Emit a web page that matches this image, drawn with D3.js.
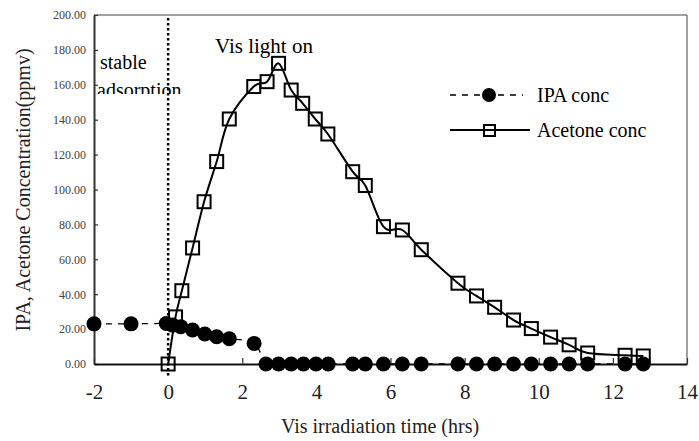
<!DOCTYPE html>
<html>
<head>
<meta charset="utf-8">
<script src="https://cdn.jsdelivr.net/npm/d3@7"></script>
<style>
  body { margin: 0; background: #fff; }
  svg { display: block; }
  svg text { font-family: "Liberation Serif", "DejaVu Serif", serif; }
</style>
</head>
<body>
<script>
// acetone concentration (ppmv) vs time (hrs)
const acetoneTime = [0, 0.2, 0.37, 0.66, 0.97, 1.31, 1.65, 2.31, 2.67, 2.98, 3.32, 3.63, 3.97, 4.31,
  4.98, 5.32, 5.81, 6.32, 6.83, 7.82, 8.32, 8.81, 9.32, 9.8, 10.32, 10.82, 11.32, 12.33, 12.82];
const acetoneConc = [0, 27, 42, 66.5, 93, 116, 140.4, 159, 161.8, 172.3, 157, 149.4, 140.4, 131.8,
  110.2, 102.3, 78.7, 76.8, 65.5, 46.3, 39, 32.5, 25.2, 20.3, 15.4, 11, 6.3, 5, 4.6];

// IPA concentration (ppmv) vs time (hrs)
const ipaTime = [-2, -1, -0.05, 0.12, 0.34, 0.66, 0.99, 1.31, 1.65, 2.32, 2.64, 2.98, 3.32, 3.65, 3.99,
  4.32, 4.98, 5.32, 5.81, 6.32, 6.83, 7.82, 8.32, 8.81, 9.32, 9.8, 10.32, 10.82, 11.32, 12.33, 12.82];
const ipaConc = [23, 23, 23.2, 22.3, 21.4, 19.5, 17.2, 15.6, 14.5, 11.8, 0, 0, 0, 0, 0,
  0, 0, 0, 0, 0, 0, 0, 0, 0, 0, 0, 0, 0, 0, 0, 0];

const xTicks = [-2, 0, 2, 4, 6, 8, 10, 12, 14];
const yTicks = [0, 20, 40, 60, 80, 100, 120, 140, 160, 180, 200];

const W = 699, H = 441;
const margin = { top: 15, right: 12, bottom: 77, left: 94 };

const x = d3.scaleLinear().domain([-2, 14]).range([margin.left, W - margin.right]);
const y = d3.scaleLinear().domain([0, 200]).range([H - margin.bottom, margin.top]);

const svg = d3.select('body').append('svg')
  .attr('width', W)
  .attr('height', H);

// frame: top and right in gray
svg.append('line')
  .attr('x1', x(-2)).attr('x2', x(14))
  .attr('y1', y(200)).attr('y2', y(200))
  .attr('stroke', '#808080').attr('stroke-width', 1.5);
svg.append('line')
  .attr('x1', x(14)).attr('x2', x(14))
  .attr('y1', y(200)).attr('y2', y(0))
  .attr('stroke', '#808080').attr('stroke-width', 1.5);

// y axis
const yAxis = svg.append('g')
  .attr('transform', `translate(${x(-2)},0)`)
  .call(d3.axisLeft(y).tickValues(yTicks).tickFormat(d3.format('.2f')).tickSizeInner(-4).tickSizeOuter(0).tickPadding(8));
yAxis.select('.domain').attr('stroke', '#333').attr('stroke-width', 2);
yAxis.selectAll('.tick line').attr('stroke', '#333').attr('stroke-width', 1.2);
yAxis.selectAll('.tick text')
  .style('font-family', '"Liberation Serif", serif')
  .style('font-size', '12px')
  .attr('fill', '#444');

// x axis
const xAxis = svg.append('g')
  .attr('transform', `translate(0,${y(0)})`)
  .call(d3.axisBottom(x).tickValues(xTicks).tickFormat(d => String(d)).tickSizeInner(-6).tickSizeOuter(0).tickPadding(20));
xAxis.select('.domain').attr('stroke', '#111').attr('stroke-width', 2);
xAxis.selectAll('.tick line').attr('stroke', '#333').attr('stroke-width', 1.2);
xAxis.selectAll('.tick text')
  .style('font-family', '"Liberation Serif", serif')
  .style('font-size', '21px')
  .attr('fill', '#222');

// axis titles
svg.append('text')
  .attr('x', 380).attr('y', 433)
  .attr('text-anchor', 'middle')
  .attr('font-size', 20)
  .attr('fill', '#222')
  .text('Vis irradiation time (hrs)');
svg.append('text')
  .attr('transform', `translate(30,190) rotate(-90)`)
  .attr('text-anchor', 'middle')
  .attr('font-size', 20)
  .attr('fill', '#222')
  .text('IPA, Acetone Concentration(ppmv)');

// vertical dotted line at light on
svg.append('line')
  .attr('x1', x(0)).attr('x2', x(0))
  .attr('y1', 18).attr('y2', 376)
  .attr('stroke', '#000').attr('stroke-width', 2.5)
  .attr('stroke-dasharray', '2.5,2.5');

// annotations
svg.append('text')
  .attr('x', 100).attr('y', 69)
  .attr('font-size', 20)
  .text('stable');
svg.append('clipPath').attr('id', 'clipAds')
  .append('rect').attr('x', 90).attr('y', 72).attr('width', 120).attr('height', 22);
svg.append('text')
  .attr('x', 97).attr('y', 97)
  .attr('font-size', 20)
  .attr('clip-path', 'url(#clipAds)')
  .text('adsorption');
svg.append('text')
  .attr('x', 215).attr('y', 53)
  .attr('font-size', 21)
  .text('Vis light on');

// acetone line + squares
const acetone = acetoneTime.map((t, i) => ({ t, v: acetoneConc[i] }));
const ipa = ipaTime.map((t, i) => ({ t, v: ipaConc[i] }));

const line = d3.line()
  .x(d => x(d.t))
  .y(d => y(d.v))
  .curve(d3.curveCatmullRom.alpha(0));

svg.append('path')
  .datum(acetone)
  .attr('d', line)
  .attr('fill', 'none')
  .attr('stroke', '#000')
  .attr('stroke-width', 2);

const sq = 13;
svg.selectAll('.sq')
  .data(acetone)
  .enter().append('rect')
  .attr('class', 'sq')
  .attr('x', d => x(d.t) - sq / 2)
  .attr('y', d => y(d.v) - sq / 2)
  .attr('width', sq)
  .attr('height', sq)
  .attr('fill', 'none')
  .attr('stroke', '#000')
  .attr('stroke-width', 2);

// IPA dashed line + circles
svg.append('path')
  .datum(ipa)
  .attr('d', line)
  .attr('fill', 'none')
  .attr('stroke', '#000')
  .attr('stroke-width', 1.3)
  .attr('stroke-dasharray', '6,6');

svg.selectAll('.dot')
  .data(ipa)
  .enter().append('circle')
  .attr('class', 'dot')
  .attr('cx', d => x(d.t))
  .attr('cy', d => y(d.v))
  .attr('r', 7.5)
  .attr('fill', '#000');

// legend
const lg = svg.append('g');
lg.append('line')
  .attr('x1', 450).attr('x2', 523).attr('y1', 95).attr('y2', 95)
  .attr('stroke', '#000').attr('stroke-width', 1.3).attr('stroke-dasharray', '6,6');
lg.append('circle').attr('cx', 489).attr('cy', 95).attr('r', 7).attr('fill', '#000');
lg.append('text').attr('x', 537).attr('y', 102).attr('font-size', 20).text('IPA conc');

lg.append('line')
  .attr('x1', 450).attr('x2', 530).attr('y1', 130).attr('y2', 130)
  .attr('stroke', '#000').attr('stroke-width', 2);
lg.append('rect').attr('x', 484).attr('y', 125).attr('width', 11).attr('height', 11)
  .attr('fill', 'none').attr('stroke', '#000').attr('stroke-width', 2);
lg.append('text').attr('x', 537).attr('y', 137).attr('font-size', 20).text('Acetone conc');
</script>
</body>
</html>
